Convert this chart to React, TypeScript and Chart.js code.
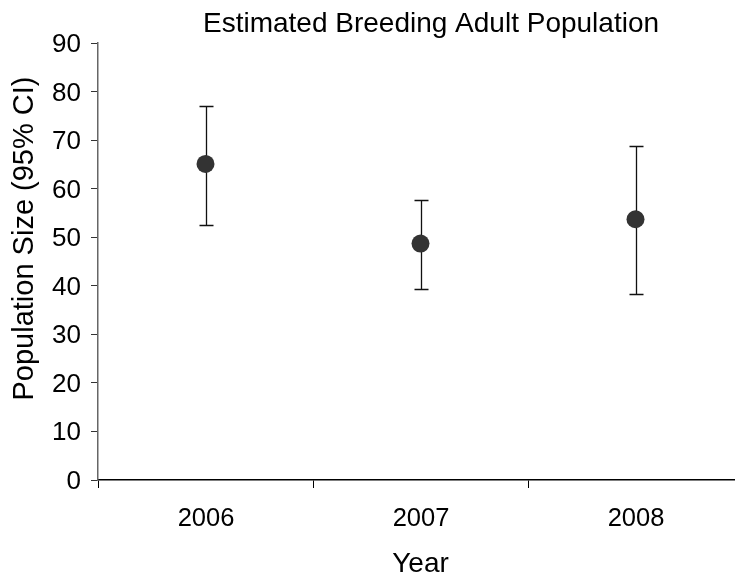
import { useEffect, useRef } from "react";
import { Chart, registerables } from "chart.js";

Chart.register(...registerables);

const years = ["2006", "2007", "2008"];
const estimates = [65.1, 48.7, 53.7];
const lowerCI = [52.6, 39.3, 38.3];
const upperCI = [77.0, 57.7, 68.8];
const yMin = 0;
const yMax = 90;
const yStep = 10;
const chartTitle = "Estimated Breeding Adult Population";
const xTitle = "Year";
const yTitle = "Population Size (95% CI)";

const FONT = '"Liberation Sans", Arial, Helvetica, sans-serif';

function drawText(
  ctx: CanvasRenderingContext2D,
  text: string,
  x: number,
  y: number,
  size: number,
  align: CanvasTextAlign,
  rotate = 0
) {
  ctx.save();
  ctx.font = `${size}px ${FONT}`;
  ctx.fillStyle = "#000";
  ctx.textAlign = align;
  ctx.textBaseline = "alphabetic";
  ctx.translate(x, y);
  if (rotate) ctx.rotate(rotate);
  ctx.fillText(text, 0, 0);
  ctx.restore();
}

const errorBars = {
  id: "errorBars",
  beforeDatasetsDraw(chart: any) {
    const { ctx } = chart;
    const ys = chart.scales.y;
    const meta = chart.getDatasetMeta(0);
    ctx.save();
    ctx.strokeStyle = "#111";
    ctx.lineWidth = 1.3;
    meta.data.forEach((pt: any, i: number) => {
      const x = Math.round(pt.x) + 0.5;
      const top = Math.round(ys.getPixelForValue(upperCI[i])) + 0.5;
      const bot = Math.round(ys.getPixelForValue(lowerCI[i])) + 0.5;
      ctx.beginPath();
      ctx.moveTo(x, top);
      ctx.lineTo(x, bot);
      ctx.moveTo(x - 7, top);
      ctx.lineTo(x + 7, top);
      ctx.moveTo(x - 7, bot);
      ctx.lineTo(x + 7, bot);
      ctx.stroke();
    });
    ctx.restore();
  },
};

const textPlugin = {
  id: "texts",
  afterDraw(chart: any) {
    const { ctx, chartArea } = chart;
    const xs = chart.scales.x;
    const ys = chart.scales.y;
    const cx = (chartArea.left + chartArea.right) / 2;
    const cy = (chartArea.top + chartArea.bottom) / 2;
    ys.ticks.forEach((t: any) => {
      const py = ys.getPixelForValue(t.value);
      drawText(ctx, String(t.value), chartArea.left - 17, py + 9, 26, "right");
    });
    years.forEach((lab, i) => {
      const px = xs.getPixelForValue(i);
      drawText(ctx, lab, px + 0.5, chartArea.bottom + 45.5, 25.5, "center");
    });
    drawText(ctx, chartTitle, cx + 10.5, chartArea.top - 11, 28, "center");
    drawText(ctx, xTitle, cx, chartArea.bottom + 92, 28, "center");
    drawText(ctx, yTitle, 33, cy - 23, 29, "center", -Math.PI / 2);
  },
};

export default function App() {
  const ref = useRef<HTMLCanvasElement | null>(null);
  useEffect(() => {
    if (!ref.current) return;
    const chart = new Chart(ref.current, {
      type: "line",
      data: {
        labels: years,
        datasets: [
          {
            data: estimates,
            showLine: false,
            pointRadius: 9,
            pointHoverRadius: 9,
            pointBorderWidth: 0,
            pointBackgroundColor: "#333333",
            borderColor: "#333333",
            backgroundColor: "#333333",
          },
        ],
      },
      options: {
        responsive: false,
        animation: false,
        events: [],
        layout: { padding: { top: 43, right: 9, left: 0, bottom: 0 }, autoPadding: false },
        plugins: {
          legend: { display: false },
          title: { display: false },
          tooltip: { enabled: false },
        },
        scales: {
          x: {
            type: "category",
            offset: true,
            grid: {
              offset: true,
              drawOnChartArea: false,
              drawTicks: true,
              tickLength: 8,
              color: "#000",
              lineWidth: 1,
            },
            border: { color: "#000", width: 1.5 },
            ticks: { display: false },
            afterFit: (s: any) => {
              s.height = 97;
            },
          },
          y: {
            min: yMin,
            max: yMax,
            ticks: { stepSize: yStep, display: false },
            grid: { drawOnChartArea: false, tickLength: 7, color: "#333", lineWidth: 1 },
            border: { color: "#666", width: 1.5 },
            afterFit: (s: any) => {
              s.width = 98;
            },
          },
        },
      },
      plugins: [errorBars, textPlugin],
    });
    return () => chart.destroy();
  }, []);
  return (
    <div
      style={{
        position: "absolute",
        left: 0,
        top: 0,
        width: 735,
        height: 577,
        overflow: "hidden",
        background: "#fff",
      }}
    >
      <canvas
        ref={ref}
        width={752}
        height={577}
        style={{ display: "block", width: 752, height: 577 }}
      />
    </div>
  );
}
